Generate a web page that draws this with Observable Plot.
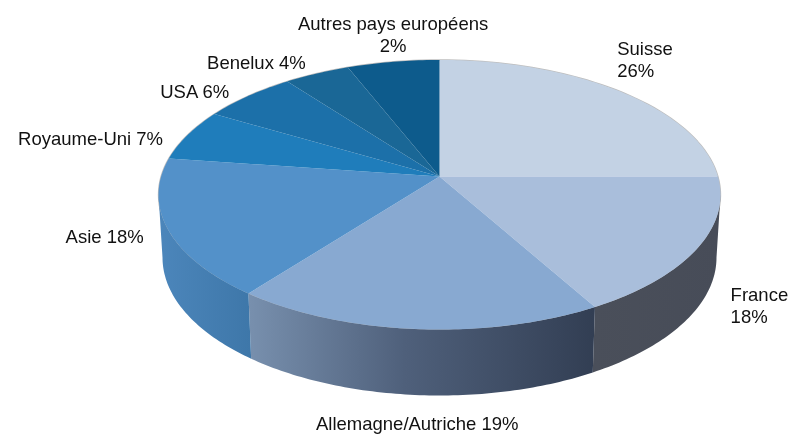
<!DOCTYPE html>
<html lang="fr">
<head>
<meta charset="utf-8">
<script src="https://cdn.jsdelivr.net/npm/d3@7"></script>
<script src="https://cdn.jsdelivr.net/npm/@observablehq/plot@0.6"></script>
<style>
html,body{margin:0;padding:0;background:#fff}
svg g[aria-label="line"]{filter:blur(.55px)}
svg g[aria-label="text"]{filter:blur(.25px)}
</style>
</head>
<body>
<div id="chart"></div>
<script>
// Categories and their printed percentages
const names = ["Suisse","France","Allemagne/Autriche","Asie","Royaume-Uni","USA","Benelux","Autres pays européens"];
const printed = [26,18,19,18,7,6,4,2];
// Share of the circle each slice really occupies in the picture (%)
const shares = [25,16.8,18.7,16.7,6.2,6.25,4.3,6.05];

// Styles
const topColors = ["#c3d2e4","#a9bedb","#88a9d1","#5391c9","#1f7dbb","#1c70a9","#1a6796","#0d5b8c"];
const labelFont = "'Liberation Sans', Arial, sans-serif";

// Perspective disc layout
const apex = {x:439, y:176}, A = 278.4, B = 132.3, k = 0.1354;
const topE = {cx:439, cy:194.25, rx:281, ry:134.75};
const botE = {cx:439, cy:257, rx:277, ry:138};
const rad = d => d * Math.PI / 180;
function rim(deg){
  const s = Math.sin(rad(deg)), c = Math.cos(rad(deg)), w = 1 + k * c;
  return {x: apex.x + A * s / w, y: apex.y - B * c / w};
}
const ellipseAngle = deg => {
  const p = rim(deg);
  const a = Math.atan2((p.x - topE.cx) / topE.rx, (topE.cy - p.y) / topE.ry) * 180 / Math.PI;
  return a < 0 ? a + 360 : a;
};
const onE = (E, a) => ({x: E.cx + E.rx * Math.sin(rad(a)), y: E.cy - E.ry * Math.cos(rad(a))});

// Slice angles come from the shares
const ends = d3.cumsum(shares).map(v => v * 3.6);
const starts = [0, ...ends.slice(0, -1)];

const topRows = names.flatMap((name, i) => {
  const n = Math.max(2, Math.ceil(ends[i] - starts[i]));
  const arc = d3.range(n + 1).map(j => rim(starts[i] + (ends[i] - starts[i]) * j / n));
  return [apex, ...arc].map(p => ({name, x: p.x, y: p.y}));
});
const rimRows = d3.range(0, 361, 2).map(rim);

function wall(i){
  const a0 = Math.max(90, ellipseAngle(starts[i])), a1 = Math.min(270, ellipseAngle(ends[i]));
  const n = Math.ceil(a1 - a0);
  const as = d3.range(n + 1).map(j => a0 + (a1 - a0) * j / n);
  return [...as.map(a => onE(topE, a)), ...as.slice().reverse().map(a => onE(botE, a))];
}
const gradient = (id, stops) => () => {
  const g = d3.create("svg:linearGradient").attr("id", id);
  stops.forEach(([o, c]) => g.append("stop").attr("offset", o).attr("stop-color", c));
  const d = d3.create("svg:defs");
  d.node().appendChild(g.node());
  return d.node();
};

const labelRows = names.map((name, i) => {
  const mid = rim((starts[i] + ends[i]) / 2);
  const sep = (i === 0 || i === 1 || i === 7) ? "\n" : " ";
  return {label: `${name}${sep}${printed[i]}%`, x: mid.x, y: mid.y};
});
const labelOffsets = [
  {dx:-2, dy:-32, textAnchor:"start"},
  {dx:33, dy:57, textAnchor:"start"},
  {dx:1, dy:93.5, textAnchor:"middle"},
  {dx:-24, dy:7, textAnchor:"end"},
  {dx:-24.5, dy:2.5, textAnchor:"end"},
  {dx:-19, dy:-5, textAnchor:"end"},
  {dx:-11, dy:-12, textAnchor:"end"},
  {dx:0, dy:-28, textAnchor:"middle"}
];

const chart = Plot.plot({
  width: 789, height: 434,
  margin: 0,
  style: {background:"#fff", fontFamily: labelFont},
  x: {domain:[0,789], range:[0,789], axis:null},
  y: {domain:[0,434], range:[0,434], axis:null},
  color: {domain:names, range:topColors},
  marks: [
    gradient("wallFrance", [[0,"#4a4f5a"],[1,"#474c58"]]),
    gradient("wallAllemagne", [[0,"#7890ae"],[.45,"#4f607b"],[1,"#323e53"]]),
    gradient("wallAsie", [[0,"#4c86bb"],[1,"#3e77a9"]]),
    Plot.line(rimRows, {x:"x", y:"y", stroke:"#888", strokeWidth:1.4, strokeOpacity:.55}),
    Plot.line(wall(1), {x:"x", y:"y", fill:"url(#wallFrance)", stroke:"none"}),
    Plot.line(wall(2), {x:"x", y:"y", fill:"url(#wallAllemagne)", stroke:"none"}),
    Plot.line(wall(3), {x:"x", y:"y", fill:"url(#wallAsie)", stroke:"none"}),
    Plot.line(topRows, {x:"x", y:"y", z:"name", fill:"name", stroke:"none"}),
    ...labelRows.map((row, i) => Plot.text([row], {
      x:"x", y:"y", text:"label",
      fontSize:18.5, fill:"#111", lineHeight:1.2,
      ...labelOffsets[i]
    }))
  ]
});
document.getElementById("chart").appendChild(chart);
</script>
</body>
</html>
